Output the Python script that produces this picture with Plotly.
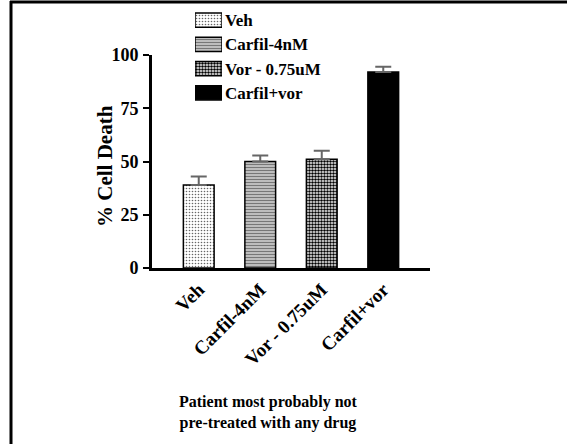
import plotly.graph_objects as go

# Treatment groups and measured % cell death (mean, upper SEM)
groups = ["Veh", "Carfil-4nM", "Vor - 0.75uM", "Carfil+vor"]
cell_death = [39, 50, 51, 92]
sem = [4, 2.8, 4, 2.5]
y_ticks = [0, 25, 50, 75, 100]

W, H = 567, 444
ML, MR, MT, MB = 152, 137, 4, 176
PW, PH = W - ML - MR, H - MT - MB
AXIS_TOP = 55  # pixel row of the 100 % tick

def px(x):
    return (x - ML) / PW

def py(y):
    return (H - MB - y) / PH

FONT = "Liberation Serif"
BOLD = dict(family=FONT, color="black", weight="bold")

# Fill style of each group (shared by the bars and the key swatches)
patterns = [
    dict(shape=".", fgcolor="#666666", bgcolor="white", size=3, solidity=0.22, fillmode="replace"),
    dict(shape="-", fgcolor="#777777", bgcolor="#d4d4d4", size=3, solidity=0.5, fillmode="replace"),
    dict(shape=".", fgcolor="black", bgcolor="white", size=3, solidity=0.55, fillmode="replace"),
    dict(shape=""),
]
fills = ["white", "#d4d4d4", "white", "black"]

fig = go.Figure()
for i, g in enumerate(groups):
    marker = dict(color=fills[i], pattern=patterns[i], line=dict(color="black", width=1.5))
    fig.add_trace(go.Bar(
        x=[g], y=[cell_death[i]], width=0.5, name=g, showlegend=False,
        marker=marker,
        error_y=dict(type="data", array=[sem[i]], arrayminus=[0], symmetric=False,
                     color="#666666", thickness=2, width=8),
        hovertemplate="%{x}: %{y}%<extra></extra>",
    ))
    # key swatch for the same group; its name is the tick label on the key axis
    fig.add_trace(go.Bar(
        y=[g], x=[1], orientation="h", width=0.58, name=g,
        xaxis="x2", yaxis="y2", showlegend=False, hoverinfo="skip",
        marker=marker,
    ))

# Frame lines along the top and left edges of the figure
fig.add_shape(type="line", xref="paper", yref="paper",
              x0=px(10), x1=px(W), y0=py(2), y1=py(2),
              line=dict(color="black", width=3))
fig.add_shape(type="line", xref="paper", yref="paper",
              x0=px(11), x1=px(11), y0=py(1), y1=py(H),
              line=dict(color="black", width=3))

# Value-axis title
fig.add_annotation(text="% Cell Death", textangle=-90,
                   xref="paper", yref="paper", x=px(105), y=py(166),
                   xanchor="center", yanchor="middle", showarrow=False,
                   font=dict(size=21, **BOLD))

fig.add_annotation(text="Patient most probably not<br>pre-treated with any drug",
                   xref="paper", yref="paper", x=px(268), y=py(412),
                   xanchor="center", yanchor="middle",
                   showarrow=False, align="center",
                   font=dict(size=16, **BOLD))

fig.update_layout(
    width=W, height=H,
    margin=dict(l=ML, r=MR, t=MT, b=MB, autoexpand=False),
    paper_bgcolor="white", plot_bgcolor="rgba(0,0,0,0)",
    font=dict(family=FONT, color="black"),
    showlegend=False,
    xaxis=dict(range=[-0.76, 3.76], showline=True, linecolor="black", linewidth=3,
               ticks="", tickangle=-45, showgrid=False, zeroline=False, automargin=False,
               tickfont=dict(size=19, **BOLD)),
    yaxis=dict(domain=[0, py(AXIS_TOP)], range=[0, 100], tickvals=y_ticks,
               showline=True, linecolor="black", linewidth=3,
               ticks="outside", ticklen=6, tickwidth=2, tickcolor="black",
               ticklabelstandoff=1,
               showgrid=False, zeroline=False, automargin=False,
               tickfont=dict(size=18, **BOLD)),
    xaxis2=dict(domain=[px(195), px(222)], range=[0, 1], anchor="y2",
                visible=False, fixedrange=True, automargin=False),
    yaxis2=dict(domain=[py(105), py(8)], anchor="x2", side="right",
                categoryorder="array", categoryarray=groups, range=[3.5, -0.5],
                showline=False, showgrid=False, zeroline=False, automargin=False,
                ticks="", ticklabelstandoff=2, fixedrange=True,
                tickfont=dict(size=17, **BOLD)),
)

fig.write_html("out.html")
